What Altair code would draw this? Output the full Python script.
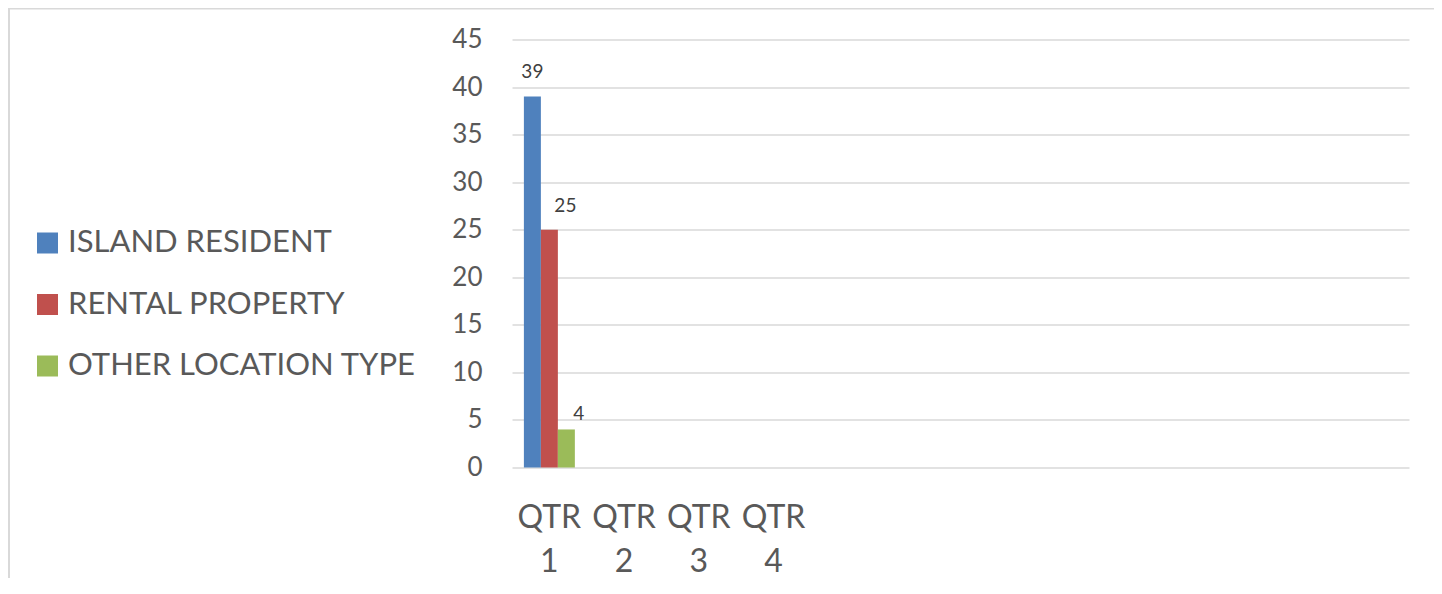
import altair as alt
import pandas as pd

QUARTERS = ["QTR 1", "QTR 2", "QTR 3", "QTR 4"]
EMPTY_SLOTS = ["_5", "_6", "_7", "_8", "_9", "_10", "_11", "_12"]
SERIES = ["ISLAND RESIDENT", "RENTAL PROPERTY", "OTHER LOCATION TYPE"]
ISLAND_RESIDENT = [39, None, None, None]
RENTAL_PROPERTY = [25, None, None, None]
OTHER_LOCATION = [4, None, None, None]
COLORS = ["#4F81BD", "#C0504D", "#9BBB59"]
Y_TICKS = [0, 5, 10, 15, 20, 25, 30, 35, 40, 45]

rows = []
for name, vals in zip(SERIES, [ISLAND_RESIDENT, RENTAL_PROPERTY, OTHER_LOCATION]):
    for q, v in zip(QUARTERS, vals):
        if v is not None:
            rows.append({"quarter": q, "series": name, "value": v})
df = pd.DataFrame(rows)

FONT = "Lato"
TXT = "#595959"
GRID = "#D9D9D9"

x_enc = alt.X("quarter:N", sort=QUARTERS,
              scale=alt.Scale(domain=QUARTERS + EMPTY_SLOTS, paddingInner=0, paddingOuter=0),
              axis=alt.Axis(title=None, domain=False, ticks=False, labelAngle=0,
                            labelFontSize=32, labelColor=TXT, labelFont=FONT,
                            labelPadding=35, labelBaseline="top", labelLineHeight=44,
                            labelExpr="indexof(datum.value, '_') == 0 ? '' : split(datum.value, ' ')"))
xoff = alt.XOffset("series:N", sort=SERIES,
                   scale=alt.Scale(domain=SERIES, paddingOuter=0.7, paddingInner=0))
y_enc = alt.Y("value:Q", scale=alt.Scale(domain=[0, 45], nice=False),
              axis=alt.Axis(title=None, values=Y_TICKS, domain=False, ticks=False,
                            labelFontSize=26, labelColor=TXT, labelFont=FONT,
                            labelPadding=30, gridColor=GRID, gridWidth=1.5))

base = alt.Chart(df)

bars = base.mark_bar().encode(
    x=x_enc, xOffset=xoff, y=y_enc,
    color=alt.Color("series:N", sort=SERIES,
                    scale=alt.Scale(domain=SERIES, range=COLORS),
                    legend=alt.Legend(title=None, orient="none", legendX=-480, legendY=188,
                                      symbolType="square", symbolSize=441, symbolStrokeWidth=0,
                                      labelFontSize=31, labelFont=FONT, labelColor=TXT,
                                      labelOffset=5, rowPadding=29.5, padding=0,
                                      labelLimit=600)),
)

label_offsets = {
    "ISLAND RESIDENT": (0, -18.6),
    "RENTAL PROPERTY": (16, -17.7),
    "OTHER LOCATION TYPE": (12.5, -9.5),
}
labels = []
for s in SERIES:
    dx, dy = label_offsets[s]
    labels.append(
        base.transform_filter(alt.datum.series == s).mark_text(
            font=FONT, fontSize=19, color="#404040", baseline="alphabetic",
            dx=dx, dy=dy
        ).encode(x=x_enc, xOffset=xoff, y=y_enc, text=alt.Text("value:Q"))
    )

frame = alt.Chart(alt.Data(values=[{}])).mark_rect(
    filled=False, stroke=GRID, strokeWidth=2
).encode(x=alt.value(-503), x2=alt.value(925), y=alt.value(-31), y2=alt.value(600))

chart = alt.layer(bars, *labels, frame).properties(
    width=897, height=428,
    autosize=alt.AutoSizeParams(type="none"),
    padding={"left": 504, "top": 31.5, "right": 25, "bottom": 110},
).configure(background="white").configure_view(stroke=None)

chart.save("out.html", embed_options={"renderer": "svg", "actions": False})
